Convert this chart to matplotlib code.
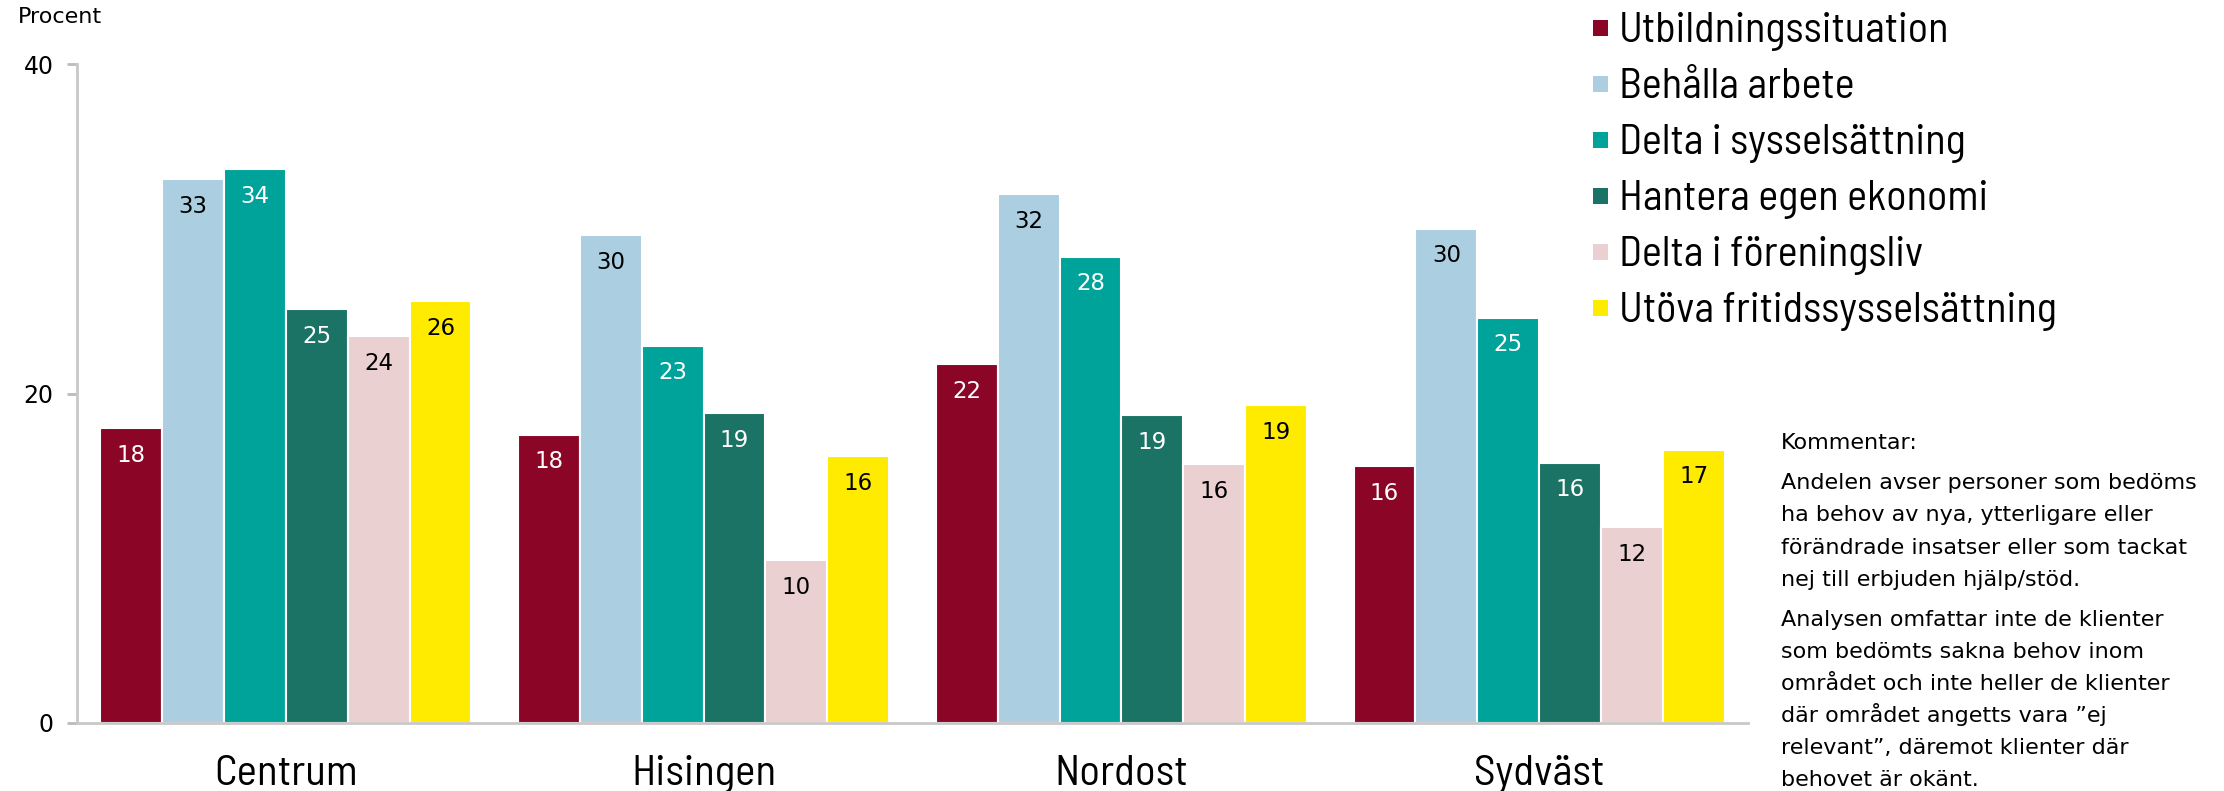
import numpy as np
import matplotlib
matplotlib.use('Agg')
from matplotlib import pyplot as plt
from matplotlib.patches import Rectangle

# areas and measures
areas = ['Centrum', 'Hisingen', 'Nordost', 'Sydväst']
measures = ['Utbildningssituation', 'Behålla arbete', 'Delta i sysselsättning',
            'Hantera egen ekonomi', 'Delta i föreningsliv', 'Utöva fritidssysselsättning']

# percent per area, one list per measure
utbildning = [17.9, 17.5, 21.8, 15.6]
behalla = [33.0, 29.6, 32.1, 30.0]
delta_syss = [33.6, 22.9, 28.3, 24.6]
hantera = [25.1, 18.8, 18.7, 15.8]
forening = [23.5, 9.9, 15.7, 11.9]
utova = [25.6, 16.2, 19.3, 16.6]
values = [utbildning, behalla, delta_syss, hantera, forening, utova]

colors = ['#8B0626', '#ABCFE0', '#00A39A', '#1B7366', '#EBD0D1', '#FFEB00']
label_colors = ['white', 'black', 'white', 'white', 'black', 'black']

cond = 'Barlow Semi Condensed'
W, H = 2224, 791

fig = plt.figure(figsize=(W/100, H/100), dpi=100)
ax = fig.add_axes([77/W, 68/H, (1748-77)/W, (723-64)/H])

x = np.arange(len(areas))
w = 0.148
for i, (vals, col) in enumerate(zip(values, colors)):
    pos = x + (i - 2.5) * w
    bars = ax.bar(pos, vals, width=w, color=col, edgecolor='white', linewidth=1.5)
    for b, v in zip(bars, vals):
        ax.text(b.get_x() + b.get_width()/2, v - 1.65, f'{v:.0f}', ha='center', va='center',
                fontsize=16.5, color=label_colors[i])

ax.set_xlim(-0.5, 3.5)
ax.set_ylim(0, 40)
ax.set_yticks([0, 20, 40])
ax.set_xticks(x)
ax.set_xticklabels(areas, fontsize=31, fontfamily=cond)
ax.tick_params(axis='x', length=0, pad=23)
ax.tick_params(axis='y', length=7, color='#BBBBBB', width=2, labelsize=17, pad=10)
for s in ['top', 'right']:
    ax.spines[s].set_visible(False)
for s in ['left', 'bottom']:
    ax.spines[s].set_color('#C8C8C8')
    ax.spines[s].set_linewidth(2)

fig.text(18/W, 1 - 17/H, 'Procent', fontsize=16, va='center', ha='left')

# legend, drawn by hand so the rows sit where the reference has them
for i, (lab, col) in enumerate(zip(measures, colors)):
    yc = 28 + 56 * i
    fig.add_artist(Rectangle((1593/W, 1 - (yc + 8)/H), 15/W, 16/H,
                             transform=fig.transFigure, facecolor=col, edgecolor='none'))
    fig.text(1619/W, 1 - (yc + 14)/H, lab, fontsize=30.5, fontfamily=cond,
             va='baseline', ha='left')

comment1 = ['Andelen avser personer som bedöms', 'ha behov av nya, ytterligare eller',
            'förändrade insatser eller som tackat', 'nej till erbjuden hjälp/stöd.']
comment2 = ['Analysen omfattar inte de klienter', 'som bedömts sakna behov inom',
            'området och inte heller de klienter', 'där området angetts vara ”ej',
            'relevant”, däremot klienter där', 'behovet är okänt.']
fig.text(1781/W, 1 - 449/H, 'Kommentar:', fontsize=16, va='baseline')
for j, line in enumerate(comment1):
    fig.text(1781/W, 1 - (489 + 32.3 * j)/H, line, fontsize=16, va='baseline')
for j, line in enumerate(comment2):
    fig.text(1781/W, 1 - (626 + 32 * j)/H, line, fontsize=16, va='baseline')

fig.savefig('out.png', dpi=100)
